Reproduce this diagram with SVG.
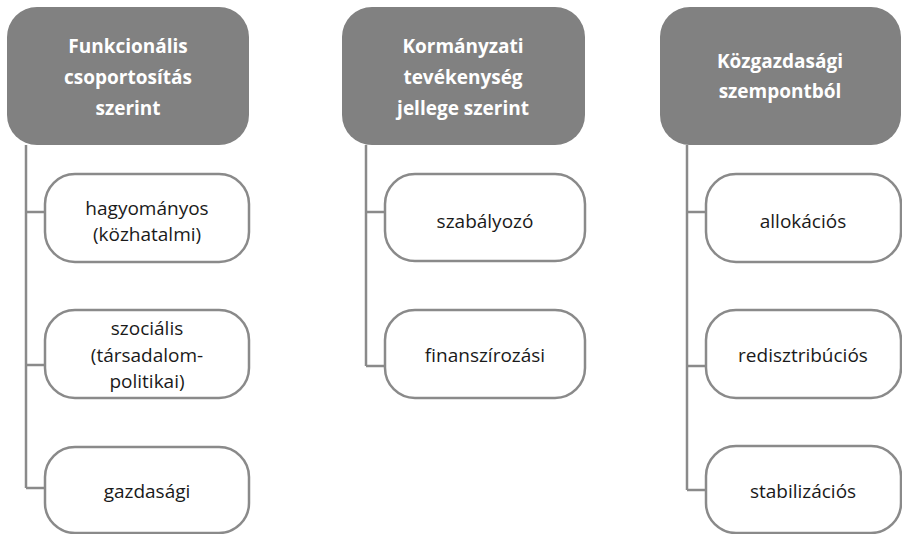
<svg xmlns="http://www.w3.org/2000/svg" width="902" height="534" viewBox="0 0 902 534">
<style>
.hdr{fill:#818181}
.box{fill:#fff;stroke:#8a8a8a;stroke-width:2.5}
.ht{font-family:"Open Sans",Lato,sans-serif;font-weight:700;font-size:19px;fill:#fff;text-anchor:middle}
.ct{font-family:"Open Sans",Lato,sans-serif;font-size:19px;fill:#1a1a1a;text-anchor:middle}
.con{fill:none;stroke:#8a8a8a;stroke-width:2.5}
</style>
<rect width="902" height="534" fill="#fff"/>
<g id="connectors">
<path class="con" d="M26 145 V488 M26 212 H45 M26 365 H45 M26 488 H45"/>
<path class="con" d="M366 145 V366 M366 212 H385 M366 366 H385"/>
<path class="con" d="M687 145 V490 M687 212 H706 M687 366 H706 M687 490 H706"/>
</g>
<g id="h1"><rect class="hdr" x="7" y="7" width="242" height="138" rx="30"/>
<text class="ht" x="128" y="53">Funkcionális</text><text class="ht" x="128" y="84">csoportosítás</text><text class="ht" x="128" y="115">szerint</text></g>
<g id="h2"><rect class="hdr" x="342" y="7" width="243" height="138" rx="30"/>
<text class="ht" x="463" y="53">Kormányzati</text><text class="ht" x="463" y="84">tevékenység</text><text class="ht" x="463" y="115">jellege szerint</text></g>
<g id="h3"><rect class="hdr" x="660" y="7" width="241" height="138" rx="30"/>
<text class="ht" x="780" y="68">Közgazdasági</text><text class="ht" x="780" y="98">szempontból</text></g>
<g id="c1a"><rect class="box" x="45" y="174" width="204" height="88" rx="30"/>
<text class="ct" x="147" y="215">hagyományos</text><text class="ct" x="147" y="241">(közhatalmi)</text></g>
<g id="c1b"><rect class="box" x="45" y="310" width="204" height="88" rx="30"/>
<text class="ct" x="147" y="335">szociális</text><text class="ct" x="147" y="362">(társadalom-</text><text class="ct" x="147" y="388">politikai)</text></g>
<g id="c1c"><rect class="box" x="45" y="447" width="204" height="86" rx="30"/>
<text class="ct" x="147" y="498">gazdasági</text></g>
<g id="c2a"><rect class="box" x="385" y="174" width="200" height="87" rx="30"/>
<text class="ct" x="485" y="228">szabályozó</text></g>
<g id="c2b"><rect class="box" x="385" y="310" width="200" height="88" rx="30"/>
<text class="ct" x="485" y="362">finanszírozási</text></g>
<g id="c3a"><rect class="box" x="706" y="174" width="195" height="88" rx="30"/>
<text class="ct" x="803" y="228">allokációs</text></g>
<g id="c3b"><rect class="box" x="706" y="310" width="195" height="88" rx="30"/>
<text class="ct" x="803" y="362">redisztribúciós</text></g>
<g id="c3c"><rect class="box" x="706" y="446" width="195" height="87" rx="30"/>
<text class="ct" x="803" y="498">stabilizációs</text></g>
</svg>
